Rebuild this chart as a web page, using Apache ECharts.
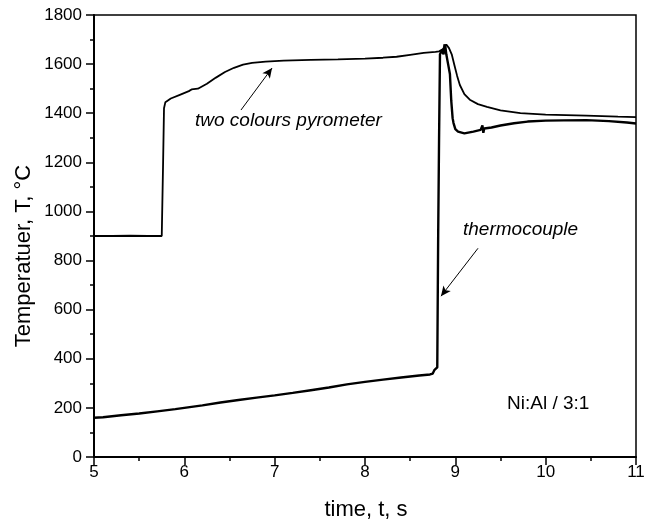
<!DOCTYPE html>
<html>
<head>
<meta charset="utf-8">
<script src="https://cdn.jsdelivr.net/npm/echarts@6/dist/echarts.min.js"></script>
<style>
html,body{margin:0;padding:0;background:#fff;}
#chart{width:653px;height:523px;}
</style>
</head>
<body>
<div id="chart"></div>
<script>
// ---- data ----
var pyroTime = [5.0, 5.2, 5.4, 5.6, 5.75, 5.765, 5.775, 5.79, 5.85, 5.95, 6.05, 6.08, 6.1, 6.15, 6.25, 6.35, 6.45, 6.55, 6.65, 6.75, 6.9, 7.1, 7.4, 7.7, 8.0, 8.2, 8.35, 8.5, 8.65, 8.78, 8.82, 8.86, 8.9, 8.93, 8.96, 8.99, 9.02, 9.05, 9.1, 9.16, 9.25, 9.35, 9.5, 9.72, 10.0, 10.45, 10.8, 11.0];
var pyroTemp = [900, 900, 901, 900, 900, 1200, 1420, 1445, 1460, 1475, 1490, 1497, 1492, 1500, 1520, 1545, 1568, 1585, 1598, 1605, 1610, 1614, 1617, 1619, 1622, 1626, 1630, 1638, 1646, 1650, 1652, 1660, 1680, 1665, 1640, 1595, 1552, 1515, 1478, 1455, 1437, 1426, 1412, 1400, 1394, 1390, 1386, 1384];

var tcTime = [5.0, 5.1, 5.2, 5.3, 5.5, 5.7, 5.9, 6.0, 6.2, 6.4, 6.6, 6.8, 7.0, 7.2, 7.4, 7.6, 7.8, 8.0, 8.2, 8.4, 8.6, 8.72, 8.75, 8.77, 8.79, 8.80, 8.81, 8.82, 8.83, 8.85, 8.87, 8.88, 8.89, 8.9, 8.92, 8.94, 8.955, 8.97, 8.98, 9.0, 9.03, 9.1, 9.2, 9.28, 9.3, 9.31, 9.32, 9.4, 9.5, 9.65, 9.8, 10.0, 10.2, 10.45, 10.7, 10.9, 11.0];
var tcTemp = [160, 162, 166, 170, 177, 186, 195, 200, 210, 222, 232, 242, 251, 261, 272, 283, 296, 306, 315, 324, 332, 336, 340, 355, 350, 365, 900, 1300, 1640, 1655, 1640, 1680, 1670, 1640, 1600, 1560, 1450, 1380, 1360, 1335, 1325, 1318, 1325, 1332, 1350, 1320, 1338, 1342, 1350, 1359, 1366, 1370, 1371, 1372, 1368, 1362, 1358];

var xTicks = [5, 6, 7, 8, 9, 10, 11];
var yTicks = [0, 200, 400, 600, 800, 1000, 1200, 1400, 1600, 1800];

// annotation arrows (data coordinates: [time, temp])
var pyroArrowFrom = [6.627, 1413];
var pyroArrowTo = [6.971, 1584];
var tcArrowFrom = [9.251, 850];
var tcArrowTo = [8.841, 655];

var labelPyro = 'two colours pyrometer';
var labelTc = 'thermocouple';
var labelSample = 'Ni:Al / 3:1';
var xName = 'time, t, s';
var yName = 'Temperatuer, T, °C';

function pairs(xs, ys) { return xs.map(function (x, i) { return [x, ys[i]]; }); }

var chart = echarts.init(document.getElementById('chart'), null, {renderer: 'canvas'});
var font = '"Liberation Sans", Arial, sans-serif';
var arrowLine = {
  silent: true,
  symbol: ['none', 'arrow'],
  symbolSize: [7, 10],
  label: {show: false},
  lineStyle: {color: '#000', width: 1, type: 'solid'},
  emphasis: {disabled: true},
  animation: false
};

chart.setOption({
  animation: false,
  backgroundColor: '#fff',
  grid: {left: 94, right: 17, top: 15, bottom: 66, show: true, borderColor: '#000', borderWidth: 1.5, containLabel: false},
  xAxis: {
    type: 'value', min: xTicks[0], max: xTicks[xTicks.length - 1], interval: 1,
    axisLine: {show: true, onZero: false, lineStyle: {color: '#000', width: 2}},
    axisTick: {show: true, length: 8, lineStyle: {color: '#000', width: 1.5}},
    minorTick: {show: true, splitNumber: 2, length: 4, lineStyle: {color: '#000', width: 1.5}},
    axisLabel: {color: '#000', fontSize: 17, fontFamily: font, margin: 7, formatter: function (v) { return String(v); }},
    splitLine: {show: false}
  },
  yAxis: {
    type: 'value', min: yTicks[0], max: yTicks[yTicks.length - 1], interval: 200,
    axisLine: {show: true, lineStyle: {color: '#000', width: 2}},
    axisTick: {show: true, length: 8, lineStyle: {color: '#000', width: 1.5}},
    minorTick: {show: true, splitNumber: 2, length: 4, lineStyle: {color: '#000', width: 1.5}},
    axisLabel: {color: '#000', fontSize: 17, fontFamily: font, margin: 12, formatter: function (v) { return String(v); }},
    splitLine: {show: false}
  },
  series: [
    {
      type: 'line', name: 'pyrometer', data: pairs(pyroTime, pyroTemp),
      showSymbol: false, smooth: false, lineStyle: {color: '#000', width: 1.8},
      markLine: Object.assign({data: [[{coord: pyroArrowFrom}, {coord: pyroArrowTo}]]}, arrowLine)
    },
    {
      type: 'line', name: 'thermocouple', data: pairs(tcTime, tcTemp),
      showSymbol: false, smooth: false, lineStyle: {color: '#000', width: 2.4},
      markLine: Object.assign({data: [[{coord: tcArrowFrom}, {coord: tcArrowTo}]]}, arrowLine)
    }
  ],
  graphic: [
    {type: 'text', left: 195, top: 111, style: {text: labelPyro, font: 'italic 19px ' + font, fill: '#000'}},
    {type: 'text', left: 463, top: 220, style: {text: labelTc, font: 'italic 19px ' + font, fill: '#000'}},
    {type: 'text', left: 507, top: 394, style: {text: labelSample, font: '19px ' + font, fill: '#000'}},
    {type: 'text', x: 366, y: 510, style: {text: xName, font: '22px ' + font, fill: '#000', align: 'center', verticalAlign: 'middle'}},
    {type: 'text', x: 24, y: 256, rotation: Math.PI / 2, style: {text: yName, font: '22px ' + font, fill: '#000', align: 'center', verticalAlign: 'middle'}}
  ]
});
</script>
</body>
</html>
